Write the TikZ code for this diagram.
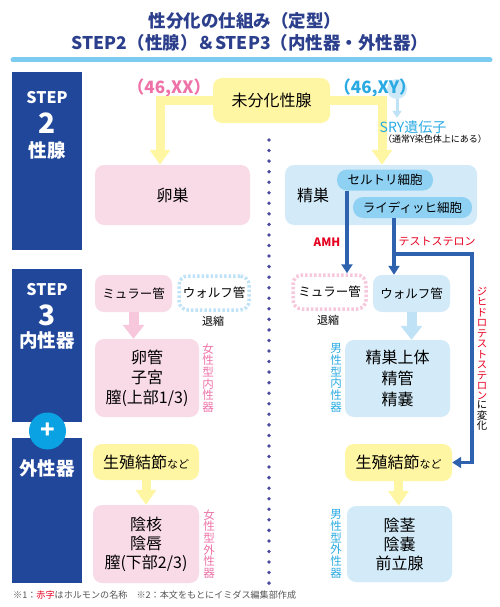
\documentclass[tikz,border=0pt]{standalone}
\usepackage{fontspec}
\setmainfont{Noto Sans CJK JP}
\usetikzlibrary{arrows.meta,positioning,calc}
\definecolor{navy}{HTML}{21479B}
\definecolor{titleblue}{HTML}{2C3F8C}
\definecolor{rulecol}{HTML}{7CCBF1}
\definecolor{pinkbox}{HTML}{F9DAE7}
\definecolor{bluebox}{HTML}{D3EBF9}
\definecolor{cellblue}{HTML}{8ED1F3}
\definecolor{yelbox}{HTML}{FFF6A3}
\definecolor{pinktext}{HTML}{EE72A8}
\definecolor{cyantext}{HTML}{2AAAE2}
\definecolor{hormred}{HTML}{E60020}
\definecolor{arrowblue}{HTML}{2E62AE}
\definecolor{dotblue}{HTML}{4B4BA0}
\definecolor{plusblue}{HTML}{0AA2E3}
\definecolor{pinkarr}{HTML}{F7C7DB}
\definecolor{bluearr}{HTML}{BFE2F7}
\definecolor{halo}{HTML}{CDE9F8}
\definecolor{notegray}{HTML}{555555}

\begin{document}
\begin{tikzpicture}[x=1pt, y=-1pt,
    box/.style={rectangle, rounded corners=9pt, inner sep=0pt, align=center, font=\fontsize{16}{20}\selectfont},
    femalebox/.style={box, fill=pinkbox},
    malebox/.style={box, fill=bluebox},
    tubbox/.style={box, fill=yelbox},
    ductbox/.style={box, font=\fontsize{12.5}{15}\selectfont, minimum height=37pt},
    cellbox/.style={rectangle, rounded corners=10pt, fill=cellblue, inner sep=0pt, minimum height=21pt, font=\fontsize{12.5}{15}\selectfont},
    stepbox/.style={rectangle, fill=navy, inner sep=0pt, minimum width=70pt},
    steptext/.style={text=white, inner sep=0pt, font=\bfseries\fontsize{16}{18}\selectfont},
    vlabel/.style={align=center, inner sep=0pt, font=\fontsize{11.5}{11.7}\selectfont},
    small/.style={inner sep=0pt, font=\fontsize{11}{13}\selectfont},
    yelarrow/.style={draw=yelbox, line width=9pt, -{Triangle[width=20pt,length=15pt]}},
    pinkarrow/.style={draw=pinkarr, line width=10pt, -{Triangle[width=21pt,length=14pt]}},
    bluearrow/.style={draw=bluearr, line width=10pt, -{Triangle[width=21pt,length=14pt]}},
    harrow/.style={draw=arrowblue, line width=3.5pt, -{Triangle[width=11pt,length=9pt]}}
]
    \useasboundingbox (0,0) rectangle (500,607);

    % Title
    \node[text=titleblue, font=\bfseries\fontsize{17.5}{21}\selectfont] (title1) at (245,21) {性分化の仕組み（定型）};
    \node[text=titleblue, font=\bfseries\fontsize{17.5}{21}\selectfont] (title2) at (250,43) {STEP2（性腺）＆STEP3（内性器・外性器）};
    \draw[rulecol, line width=5pt, line cap=round] (13,60) -- (490,60);

    % Step column
    \node[stepbox, minimum height=178pt] (step2box) at (47,161) {};
    \node[steptext] (step2a) at (47,98) {STEP};
    \node[steptext, font=\bfseries\fontsize{28}{30}\selectfont] (step2b) at (47,123) {2};
    \node[steptext, font=\bfseries\fontsize{18.5}{20}\selectfont] (step2c) at (47,150) {性腺};
    \node[stepbox, minimum height=153pt] (step3box) at (47,345.5) {};
    \node[steptext] (step3a) at (47,290) {STEP};
    \node[steptext, font=\bfseries\fontsize{28}{30}\selectfont] (step3b) at (47,315) {3};
    \node[steptext, font=\bfseries\fontsize{18.5}{20}\selectfont] (step3c) at (47,340) {内性器};
    \node[stepbox, minimum height=145pt] (extbox) at (47,510.5) {};
    \node[steptext, font=\bfseries\fontsize{18.5}{20}\selectfont] (extlbl) at (47,468) {外性器};
    \node[circle, fill=plusblue, minimum size=37pt, inner sep=0pt, text=white, font=\bfseries\fontsize{24}{24}\selectfont] (plus) at (47.5,431) {+};

    % Divider
    \foreach \k in {0,...,42}
        \fill[dotblue] (269,140+10.55*\k) circle (1.9pt);

    % STEP2
    \node[box, fill=yelbox, minimum width=117pt, minimum height=45pt] (undiff) at (271.5,100.5) {未分化性腺};
    \node[text=pinktext, font=\bfseries\fontsize{17}{20}\selectfont] (xx) at (169,88) {（46,XX）};
    \node[circle, fill=halo, minimum size=20pt, inner sep=0pt] (yhalo) at (397,89) {};
    \node[text=cyantext, font=\bfseries\fontsize{17}{20}\selectfont] (xy) at (375,88) {（46,XY）};

    \node[femalebox, minimum width=155pt, minimum height=60pt] (ovary) at (172.5,195) {卵巣};
    \node[malebox, minimum width=192pt, minimum height=60pt] (testis) at (381,195) {};
    \node[inner sep=0pt, font=\fontsize{16}{20}\selectfont] (testislbl) at (313,195) {精巣};
    \node[cellbox, minimum width=96pt] (sertoli) at (385,180) {セルトリ細胞};
    \node[cellbox, minimum width=119pt] (leydig) at (412.5,207.5) {ライディッヒ細胞};

    \draw[yelarrow] (undiff.west) -| ([xshift=-12.5pt]ovary.north);
    \draw[yelarrow] (undiff.east) -| ([xshift=1pt]testis.north);

    \node[text=cyantext, inner sep=0pt, font=\fontsize{14}{16}\selectfont] (sry) at (413,127.5) {SRY遺伝子};
    \node[inner sep=0pt, font=\fontsize{9}{11}\selectfont] (srynote) at (435,139.5) {（通常Y染色体上にある）};
    \draw[draw=bluearr, line width=3pt, shorten >=3pt, -{Triangle[width=9pt,length=7pt]}] (yhalo.south) -- (yhalo.south |- sry.north);

    % STEP3 internal
    \node[ductbox, fill=pinkbox, minimum width=77pt] (mullerL) at (133.5,293.5) {ミュラー管};
    \node[ductbox, draw=bluearr, line width=3.5pt, dash pattern=on 2.5pt off 2pt, minimum width=70pt, minimum height=34pt] (wolffL) at (214,293) {ウォルフ管};
    \node[small] (retL) at (213,321) {退縮};
    \node[ductbox, draw=pinkarr, line width=3.5pt, dash pattern=on 2.5pt off 2pt, minimum width=73pt, minimum height=34pt] (mullerR) at (329.5,292) {ミュラー管};
    \node[small] (retR) at (328,320) {退縮};
    \node[ductbox, fill=bluebox, minimum width=77pt] (wolffR) at (411.5,293.5) {ウォルフ管};

    \node[femalebox, minimum width=104pt, minimum height=78pt] (femIn) at (147,378) {卵管\\子宮\\膣(上部1/3)};
    \node[malebox, minimum width=105pt, minimum height=77pt, font=\fontsize{16}{21}\selectfont] (malIn) at (397.5,378.5) {精巣上体\\精管\\精嚢};
    \node[vlabel, text=pinktext] (femInlbl) at (208,378) {女\\性\\型\\内\\性\\器};
    \node[vlabel, text=cyantext] (malInlbl) at (336,378) {男\\性\\型\\内\\性\\器};

    \draw[pinkarrow] (mullerL.south) -- (mullerL.south |- femIn.north);
    \draw[bluearrow] (wolffR.south) -- (wolffR.south |- malIn.north);

    % Hormones
    \node[inner sep=0pt, text=hormred, font=\bfseries\fontsize{11.5}{13}\selectfont] (amh) at (327,242) {AMH};
    \node[inner sep=0pt, text=hormred, font=\fontsize{11}{13}\selectfont] (testo) at (437,242) {テストステロン};
    \coordinate (tbranch) at (394,254);
    \draw[harrow] ([xshift=-38pt]sertoli.south) -- ([xshift=-38pt]sertoli.south |- mullerR.north);
    \draw[harrow] ([xshift=-18.5pt]leydig.south) -- (tbranch) -- (tbranch |- wolffR.north);

    % STEP3 external
    \node[tubbox, minimum width=106pt, minimum height=36pt] (tubL) at (146,462) {生殖結節{\fontsize{11}{13}\selectfont など}};
    \node[tubbox, minimum width=107pt, minimum height=37pt] (tubR) at (398.5,462.5) {生殖結節{\fontsize{11}{13}\selectfont など}};
    \node[femalebox, minimum width=106pt, minimum height=78pt, font=\fontsize{16}{19}\selectfont] (femEx) at (146,544) {陰核\\陰唇\\膣(下部2/3)};
    \node[malebox, minimum width=105pt, minimum height=76pt, font=\fontsize{16}{19}\selectfont] (malEx) at (399.5,544) {陰茎\\陰嚢\\前立腺};
    \node[vlabel, text=pinktext] (femExlbl) at (209,544) {女\\性\\型\\外\\性\\器};
    \node[vlabel, text=cyantext] (malExlbl) at (336,544) {男\\性\\型\\外\\性\\器};

    \draw[yelarrow] (tubL.south) -- (femEx.north);
    \draw[yelarrow] (tubR.south) -- (tubR.south |- malEx.north);
    \draw[harrow] (tbranch) -| ([xshift=20pt]tubR.east) -- (tubR.east);
    \node[vlabel, text=hormred, font=\fontsize{10.4}{10.45}\selectfont, anchor=north] (dhtlbl) at (482,287) {ジ\\ヒ\\ド\\ロ\\テ\\ス\\ト\\ス\\テ\\ロ\\ン};
    \node[vlabel, font=\fontsize{10.4}{10.45}\selectfont, below=0.5pt of dhtlbl] (dhtsfx) {に\\変\\化};

    % Note
    \node[anchor=west, inner sep=0pt, text=notegray, font=\fontsize{9.1}{11}\selectfont] (note) at (13,595) {※1：\textcolor{hormred}{赤字}はホルモンの名称　※2：本文をもとにイミダス編集部作成};
\end{tikzpicture}
\end{document}
